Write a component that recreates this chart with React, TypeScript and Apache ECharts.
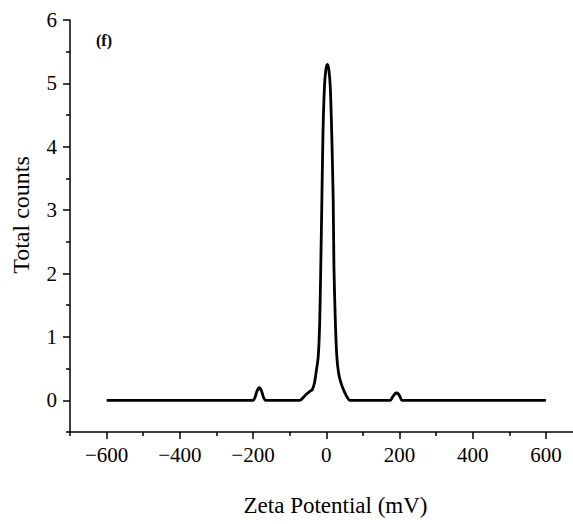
import React, { useEffect, useRef } from "react";
import * as echarts from "echarts";

const zetaX: number[] = [
  -600, -200, -195, -189, -183, -177, -171, -166,
  -72, -62, -54, -45, -38, -32, -27, -22, -18, -15, -12, -9, -5, -1, 3, 7, 11, 15, 19, 21, 25, 29, 34, 41, 50, 58, 64,
  175, 181, 187, 192, 197, 202, 207, 600,
];
const counts: number[] = [
  0, 0, 0.04, 0.15, 0.2, 0.15, 0.04, 0,
  0, 0.05, 0.1, 0.14, 0.17, 0.28, 0.47, 0.68, 1.21, 2.1, 3.15, 4.2, 4.94, 5.22, 5.3, 5.22, 4.94, 4.2, 3.15, 2.1, 1.21, 0.68, 0.42, 0.26, 0.13, 0.04, 0,
  0, 0.05, 0.1, 0.115, 0.1, 0.05, 0, 0,
];
const xMajorTicks = [-600, -400, -200, 0, 200, 400, 600];
const xMinorTicks = [-700, -500, -300, -100, 100, 300, 500];
const yMajorTicks = [0, 1, 2, 3, 4, 5, 6];
const yMinorTicks = [-0.5, 0.5, 1.5, 2.5, 3.5, 4.5, 5.5];

const FONT = "Liberation Serif";

export default function App() {
  const ref = useRef<HTMLDivElement>(null);
  useEffect(() => {
    if (!ref.current) return;
    const chart = echarts.init(ref.current, undefined, { renderer: "svg" });
    const axisLine = { show: true, onZero: false, lineStyle: { color: "#000", width: 1.5 } };
    const labelStyle = { color: "#000", fontFamily: FONT, fontSize: 21 };
    chart.setOption({
      animation: false,
      backgroundColor: "#fff",
      textStyle: { fontFamily: FONT },
      grid: { left: 70, right: 0, top: 20, bottom: 92, containLabel: false },
      xAxis: [
        {
          type: "value",
          min: -700,
          max: 674,
          position: "bottom",
          axisLine,
          splitLine: { show: false },
          axisTick: { show: true, customValues: xMajorTicks, length: 7, lineStyle: { color: "#000", width: 1.5 } },
          axisLabel: {
            ...labelStyle,
            customValues: xMajorTicks,
            margin: 12,
            formatter: (v: number) => String(v).replace("-", "\u2212"),
          },
          name: "Zeta Potential (mV)",
          nameLocation: "middle",
          nameGap: 62,
          nameTextStyle: { ...labelStyle, fontSize: 23, padding: [0, 0, 0, 28] },
        },
        {
          type: "value",
          min: -700,
          max: 674,
          position: "bottom",
          axisLine: { show: false, onZero: false },
          splitLine: { show: false },
          axisTick: { show: true, customValues: xMinorTicks, length: 4, lineStyle: { color: "#000", width: 1.5 } },
          axisLabel: { show: false },
        },
      ],
      yAxis: [
        {
          type: "value",
          min: -0.5,
          max: 6,
          position: "left",
          axisLine,
          splitLine: { show: false },
          axisTick: { show: true, customValues: yMajorTicks, length: 7, lineStyle: { color: "#000", width: 1.5 } },
          axisLabel: { ...labelStyle, customValues: yMajorTicks, margin: 13 },
          name: "Total counts",
          nameLocation: "middle",
          nameGap: 37,
          nameTextStyle: { ...labelStyle, fontSize: 24, padding: [0, 0, 0, 22] },
        },
        {
          type: "value",
          min: -0.5,
          max: 6,
          position: "left",
          axisLine: { show: false, onZero: false },
          splitLine: { show: false },
          axisTick: { show: true, customValues: yMinorTicks, length: 4, lineStyle: { color: "#000", width: 1.5 } },
          axisLabel: { show: false },
        },
      ],
      graphic: [
        {
          type: "text",
          left: 96,
          top: 32,
          style: { text: "(f)", fontFamily: FONT, fontSize: 16, fontWeight: "bold", fill: "#000" },
        },
      ],
      series: [
        {
          type: "line",
          xAxisIndex: 0,
          yAxisIndex: 0,
          data: zetaX.map((x, i) => [x, counts[i]]),
          showSymbol: false,
          smooth: 0.25,
          lineStyle: { color: "#000", width: 2.8 },
        },
      ],
    });
    return () => chart.dispose();
  }, []);
  return (
    <div
      ref={ref}
      style={{ position: "fixed", left: 0, top: 0, width: 573, height: 524, background: "#fff" }}
    />
  );
}
